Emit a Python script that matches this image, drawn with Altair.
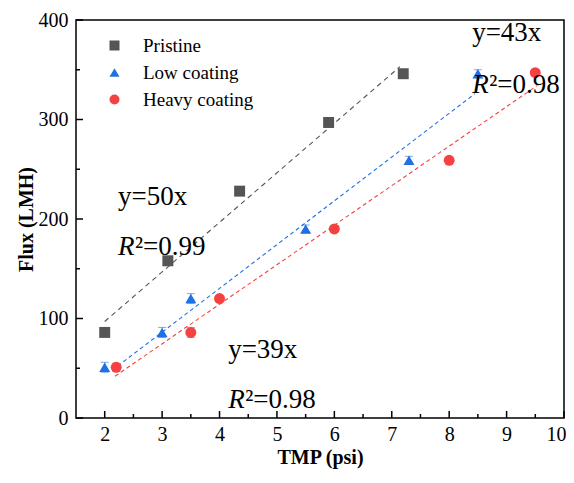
import altair as alt
import pandas as pd

# ---------------- data ----------------
series_names = ["Pristine", "Low coating", "Heavy coating"]
series_colors = ["#555555", "#1f6fe5", "#f44242"]
series_shapes = ["square", "triangle-up", "circle"]

pristine_tmp = [2.0, 3.1, 4.35, 5.9, 7.2]
pristine_flux = [86, 158, 228, 297, 346]
pristine_err = [4, 4, 3, 4, 4]

low_tmp = [2.0, 3.0, 3.5, 5.5, 7.3, 8.5]
low_flux = [51, 86, 120, 190, 259, 346]
low_err = [5, 5, 5, 4, 4, 4]

heavy_tmp = [2.2, 3.5, 4.0, 6.0, 8.0, 9.5]
heavy_flux = [51, 86, 120, 190, 259, 347]
heavy_err = [4, 5, 3, 3, 3, 3]

# linear fit segments (start / end)
fit_x_start = [2.0, 2.13, 2.18]
fit_x_end = [7.14, 8.45, 9.53]
fit_y_start = [97, 48, 42]
fit_y_end = [353, 326, 334]
fit_dash = [[5, 4], [4, 3], [4, 3]]

# annotations
eq_text = ["y=50x", "y=39x", "y=43x"]
eq_x = [2.23, 4.15, 8.4]
eq_y = [222, 68, 387]
r2_text = ["\u00b2=0.99", "\u00b2=0.98", "\u00b2=0.98"]
r2_y = [172, 18, 335]

x_major = [2, 3, 4, 5, 6, 7, 8, 9, 10]
x_minor = [2.5, 3.5, 4.5, 5.5, 6.5, 7.5, 8.5, 9.5]
y_major = [0, 100, 200, 300, 400]
y_minor = [50, 150, 250, 350]

FONT = "Liberation Serif, Times New Roman, serif"
W, H = 488, 398

# ---------------- tables ----------------
series_data = [
    (pristine_tmp, pristine_flux, pristine_err),
    (low_tmp, low_flux, low_err),
    (heavy_tmp, heavy_flux, heavy_err),
]
rows = []
for name, (xs, ys, es) in zip(series_names, series_data):
    for x, y, e in zip(xs, ys, es):
        rows.append({"series": name, "tmp": x, "flux": y, "lo": y - e, "hi": y + e})
pts = pd.DataFrame(rows)

xscale = alt.Scale(domain=[1.5, 10], nice=False, zero=False)
yscale = alt.Scale(domain=[0, 400], nice=False)

color_scale = alt.Scale(domain=series_names, range=series_colors)
shape_scale = alt.Scale(domain=series_names, range=series_shapes)

xaxis = alt.Axis(values=x_major, format="d", ticks=False, domain=False, grid=False,
                 labelFlush=True, labelFlushOffset=2, labelPadding=6,
                 title="TMP (psi)", titlePadding=3)
yaxis = alt.Axis(values=y_major, format="d", ticks=False, domain=False, grid=False,
                 labelFlush=False, labelPadding=8, title="Flux (LMH)", titlePadding=2)

layers = []

# fit lines
for i, name in enumerate(series_names):
    df = pd.DataFrame({"tmp": [fit_x_start[i], fit_x_end[i]],
                       "flux": [fit_y_start[i], fit_y_end[i]]})
    layers.append(
        alt.Chart(df).mark_line(color=series_colors[i], strokeWidth=1.1,
                                strokeDash=fit_dash[i]).encode(
            x=alt.X("tmp:Q", scale=xscale, axis=xaxis),
            y=alt.Y("flux:Q", scale=yscale, axis=yaxis),
        )
    )

# error bars (per series, fixed colours)
for i, name in enumerate(series_names):
    sub = pts[pts["series"] == name]
    base = alt.Chart(sub)
    layers.append(
        base.mark_rule(strokeWidth=1, opacity=0.6, color=series_colors[i]).encode(
            x="tmp:Q", y="lo:Q", y2="hi:Q")
    )
    for f in ["lo", "hi"]:
        layers.append(
            base.mark_tick(orient="horizontal", size=8, thickness=1, opacity=0.6,
                           color=series_colors[i]).encode(x="tmp:Q", y=f"{f}:Q")
        )

# points
layers.append(
    alt.Chart(pts).mark_point(filled=True, opacity=1, size=120, strokeWidth=0).encode(
        x="tmp:Q", y="flux:Q",
        color=alt.Color("series:N", scale=color_scale, sort=series_names,
                        legend=alt.Legend(title=None)),
        shape=alt.Shape("series:N", scale=shape_scale, sort=series_names,
                        legend=alt.Legend(title=None)),
    )
)

# inward ticks
def xticks(vals, length):
    return alt.Chart(pd.DataFrame({"v": vals})).mark_rule(color="black", strokeWidth=1.5).encode(
        x="v:Q", y=alt.value(H), y2=alt.value(H - length))

def yticks(vals, length):
    return alt.Chart(pd.DataFrame({"v": vals})).mark_rule(color="black", strokeWidth=1.5).encode(
        y="v:Q", x=alt.value(0), x2=alt.value(length))

layers += [xticks(x_major, 7), xticks(x_minor, 4), yticks(y_major, 7), yticks(y_minor, 4)]

# annotations
eq_df = pd.DataFrame({"tmp": eq_x, "flux": eq_y, "t": eq_text})
layers.append(
    alt.Chart(eq_df).mark_text(font=FONT, fontSize=27, align="left", baseline="middle",
                               color="black").encode(x="tmp:Q", y="flux:Q", text="t:N")
)
r_df = pd.DataFrame({"tmp": eq_x, "flux": r2_y, "t": ["R"] * 3, "t2": r2_text})
layers.append(
    alt.Chart(r_df).mark_text(font=FONT, fontSize=27, fontStyle="italic", align="left",
                              baseline="middle", color="black").encode(
        x="tmp:Q", y="flux:Q", text="t:N")
)
layers.append(
    alt.Chart(r_df).mark_text(font=FONT, fontSize=27, align="left", baseline="middle",
                              color="black", dx=17).encode(
        x="tmp:Q", y="flux:Q", text="t2:N")
)

chart = alt.layer(*layers).properties(
    width=W, height=H,
    background="white",
    autosize=alt.AutoSizeParams(type="none"),
    padding={"left": 68, "top": 12, "right": 2, "bottom": 56},
).configure_axis(
    labelFont=FONT, labelFontSize=20, labelColor="black",
    titleFont=FONT, titleFontSize=20, titleFontWeight="bold", titleColor="black",
).configure_view(
    stroke="black", strokeWidth=1.5
).configure_legend(
    orient="none", legendX=29, legendY=16, padding=0,
    labelFont=FONT, labelFontSize=19, labelColor="black",
    symbolSize=100, symbolStrokeWidth=0, rowPadding=7, labelOffset=19,
)

chart.save("out.html", embed_options={"renderer": "svg", "actions": False})
